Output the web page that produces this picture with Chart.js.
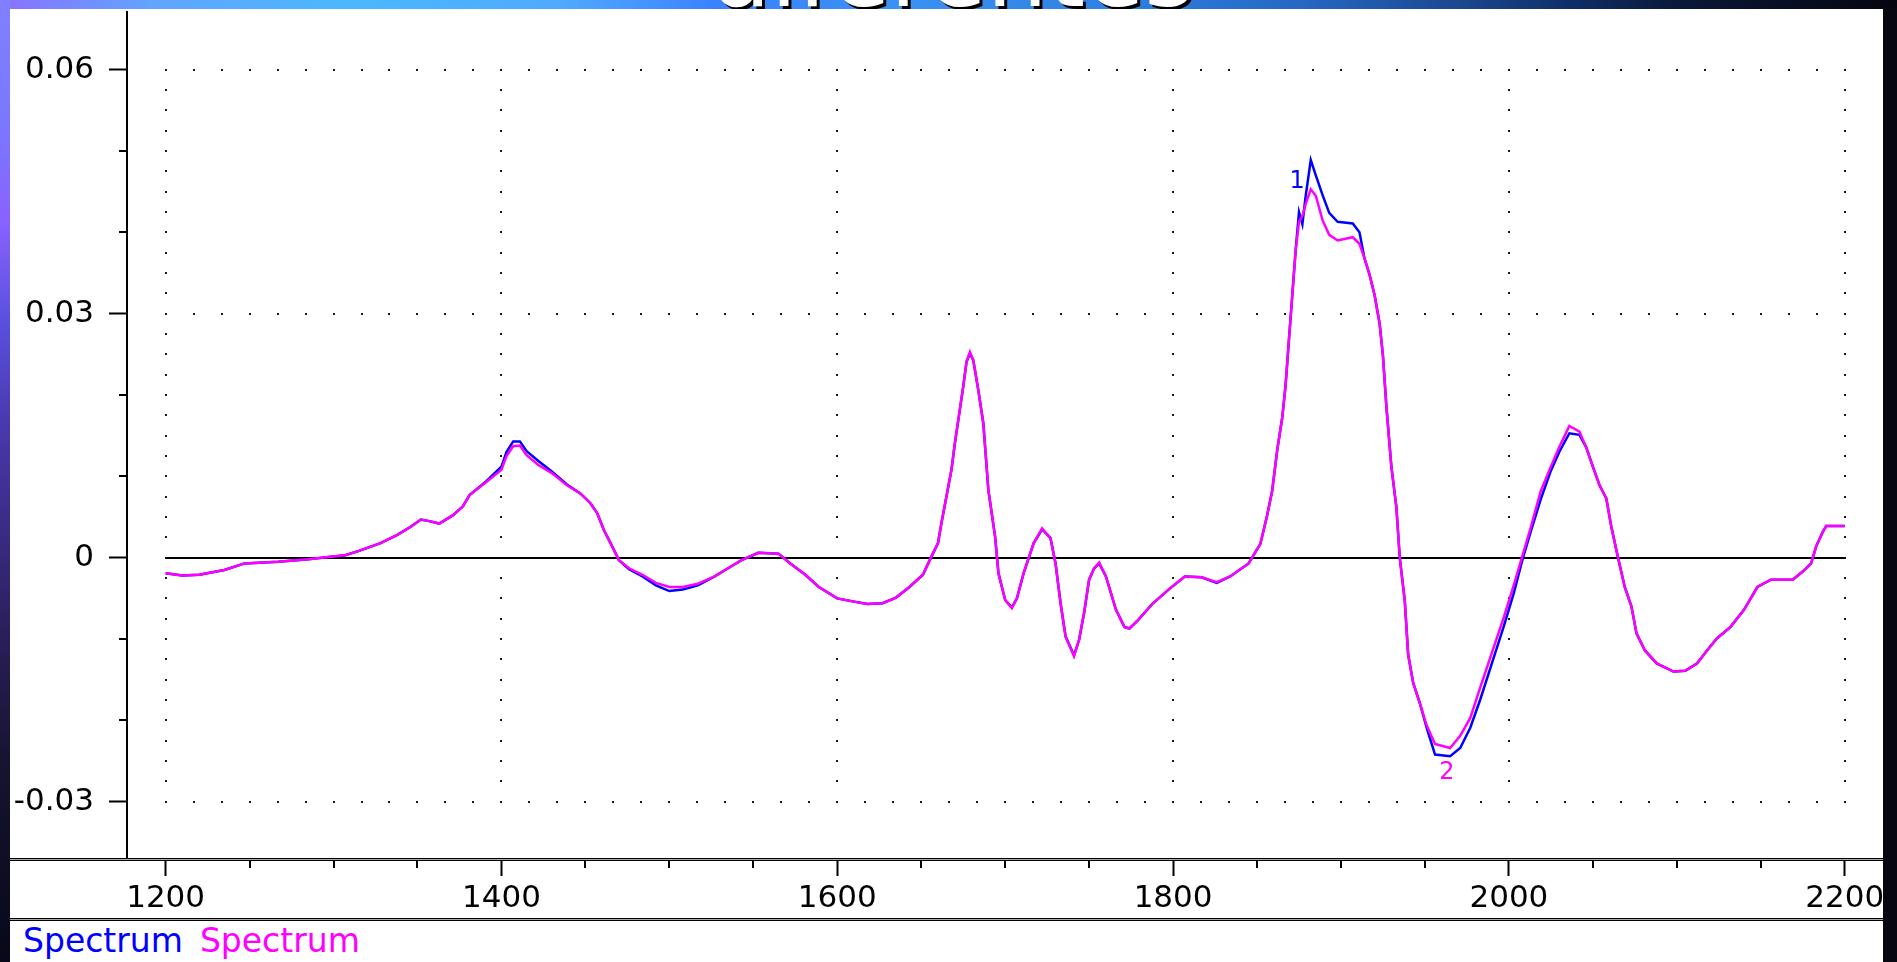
<!DOCTYPE html>
<html>
<head>
<meta charset="utf-8">
<title>Spectrum</title>
<script src="https://cdn.jsdelivr.net/npm/chart.js@4"></script>
<style>
  html, body { margin: 0; padding: 0; }
  body {
    width: 1897px; height: 962px; overflow: hidden; position: relative;
    background: #07070f; font-family: "DejaVu Sans", sans-serif;
  }
  #topband {
    position: absolute; left: 0; top: 0; width: 1897px; height: 9px;
    background: linear-gradient(to right, #8a70ff 0px, #62a4ff 150px, #4ab8ff 350px, #50aaff 560px,
      #3b80ff 720px, #3a92f2 900px, #2f82e2 1100px, #2668c4 1300px, #1c4a92 1450px,
      #10306c 1560px, #0a1838 1680px, #05050f 1897px);
  }
  #leftband {
    position: absolute; left: 0; top: 0; width: 10px; height: 962px;
    background: linear-gradient(to bottom, #8080ff 0px, #7a78ff 120px, #8a62ff 220px, #5a50e0 320px,
      #4a3ab0 420px, #3c2c88 520px, #2a1e58 640px, #161430 760px, #08081a 962px);
  }
  #title {
    position: absolute; left: 952px; top: -75px; transform: translateX(-50%);
    font-size: 96px; line-height: 1; color: #fff; white-space: nowrap;
    text-shadow: 3px 3px 0 #000;
  }
  #panel { position: absolute; left: 10px; top: 9px; width: 1873px; height: 953px; background: #fff; }
  #chart { position: absolute; left: 0; top: 0; }
  #sep2 {
    position: absolute; left: 0; top: 909px; width: 1873px; height: 1px;
    background: #aaa; border-top: 1px solid #000; border-bottom: 1px solid #000;
  }
  #legend {
    position: absolute; left: 13px; top: 913px; font-size: 33px; line-height: 38px;
    white-space: nowrap; display: flex; gap: 17px;
  }
</style>
</head>
<body>
<div id="topband"></div>
<div id="leftband"></div>
<div id="title">diferentes</div>
<div id="panel">
  <canvas id="chart" width="1873" height="909"></canvas>
  <div id="sep2"></div>
  <div id="legend"><span style="color:#0000ff">Spectrum</span><span style="color:#ff00ff">Spectrum</span></div>
</div>
<script>
// wavenumber positions
const wavenumbers = [
  1200, 1210, 1220, 1235, 1247, 1267, 1285, 1297, 1307, 1316, 1328, 1338, 1346, 1352, 1357, 1363, 1371, 1377, 1381, 1391,
  1400, 1403, 1407, 1411, 1415, 1422, 1430, 1439, 1447, 1453, 1457, 1461, 1465, 1470, 1476, 1484, 1492, 1500, 1508, 1517,
  1527, 1535, 1543, 1553, 1565, 1572, 1581, 1589, 1600, 1610, 1618, 1627, 1635, 1643, 1651, 1656, 1660, 1662, 1665, 1668,
  1670, 1673, 1675, 1677, 1679, 1681, 1684, 1687, 1690, 1694, 1696, 1700, 1704, 1707, 1711, 1717, 1722, 1727, 1730, 1733,
  1736, 1741, 1744, 1747, 1750, 1753, 1756, 1760, 1766, 1771, 1774, 1779, 1788, 1798, 1807, 1817, 1826, 1834, 1845, 1852,
  1856, 1859, 1862, 1865, 1867, 1869, 1871, 1873, 1875, 1877, 1879, 1882, 1885, 1889, 1893, 1898, 1907, 1911, 1914, 1917,
  1920, 1923, 1925, 1927, 1930, 1933, 1935, 1938, 1940, 1943, 1947, 1951, 1956, 1965, 1971, 1977, 1983, 1990, 1997, 2003,
  2008, 2013, 2019, 2025, 2030, 2036, 2042, 2046, 2050, 2054, 2058, 2061, 2065, 2069, 2073, 2076, 2081, 2088, 2098, 2105,
  2112, 2118, 2124, 2132, 2140, 2148, 2156, 2169, 2175, 2180, 2183, 2187, 2189, 2200
];

const blueSpectrum = [
  -0.0019, -0.0022, -0.0021, -0.0015, -0.0007, -0.0005, -0.0002, 0.0001, 0.0003, 0.0009, 0.0018, 0.0028, 0.0038, 0.0047, 0.0045, 0.0042, 0.0052, 0.0063, 0.0077, 0.0094,
  0.0112, 0.0130, 0.0143, 0.0143, 0.0131, 0.0119, 0.0106, 0.0090, 0.0079, 0.0067, 0.0055, 0.0034, 0.0018, -0.0003, -0.0014, -0.0023, -0.0034, -0.0041, -0.0039, -0.0034,
  -0.0023, -0.0013, -0.0003, 0.0006, 0.0005, -0.0007, -0.0021, -0.0036, -0.0050, -0.0054, -0.0057, -0.0056, -0.0049, -0.0036, -0.0021, 0.0001, 0.0018, 0.0042, 0.0075, 0.0108,
  0.0140, 0.0182, 0.0210, 0.0241, 0.0251, 0.0243, 0.0206, 0.0165, 0.0083, 0.0026, -0.0019, -0.0052, -0.0061, -0.0050, -0.0019, 0.0018, 0.0035, 0.0024, -0.0007, -0.0056,
  -0.0097, -0.0120, -0.0101, -0.0068, -0.0027, -0.0013, -0.0007, -0.0023, -0.0064, -0.0085, -0.0087, -0.0077, -0.0056, -0.0038, -0.0023, -0.0024, -0.0031, -0.0023, -0.0007, 0.0017,
  0.0052, 0.0082, 0.0132, 0.0172, 0.0212, 0.0268, 0.0323, 0.0378, 0.0425, 0.0410, 0.0445, 0.0489, 0.0470, 0.0446, 0.0424, 0.0413, 0.0411, 0.0400, 0.0368, 0.0348,
  0.0323, 0.0288, 0.0248, 0.0187, 0.0112, 0.0062, 0.0000, -0.0053, -0.0119, -0.0154, -0.0179, -0.0209, -0.0242, -0.0244, -0.0234, -0.0209, -0.0174, -0.0129, -0.0084, -0.0043,
  -0.0003, 0.0032, 0.0072, 0.0107, 0.0130, 0.0153, 0.0151, 0.0136, 0.0112, 0.0089, 0.0073, 0.0038, 0.0000, -0.0036, -0.0060, -0.0093, -0.0114, -0.0130, -0.0140, -0.0139,
  -0.0130, -0.0114, -0.0099, -0.0085, -0.0064, -0.0036, -0.0027, -0.0027, -0.0017, -0.0007, 0.0014, 0.0032, 0.0039, 0.0039
];

const magentaSpectrum = [
  -0.0019, -0.0022, -0.0021, -0.0015, -0.0007, -0.0005, -0.0002, 0.0001, 0.0003, 0.0009, 0.0018, 0.0028, 0.0038, 0.0047, 0.0045, 0.0042, 0.0052, 0.0063, 0.0077, 0.0093,
  0.0108, 0.0125, 0.0137, 0.0138, 0.0126, 0.0114, 0.0104, 0.0089, 0.0079, 0.0067, 0.0055, 0.0034, 0.0018, -0.0003, -0.0013, -0.0021, -0.0031, -0.0036, -0.0036, -0.0032,
  -0.0023, -0.0013, -0.0003, 0.0006, 0.0005, -0.0007, -0.0021, -0.0036, -0.0050, -0.0054, -0.0057, -0.0056, -0.0049, -0.0036, -0.0021, 0.0001, 0.0018, 0.0042, 0.0075, 0.0108,
  0.0140, 0.0182, 0.0210, 0.0241, 0.0253, 0.0243, 0.0206, 0.0165, 0.0083, 0.0026, -0.0019, -0.0052, -0.0062, -0.0050, -0.0019, 0.0018, 0.0036, 0.0024, -0.0007, -0.0056,
  -0.0097, -0.0121, -0.0101, -0.0068, -0.0027, -0.0013, -0.0006, -0.0023, -0.0064, -0.0085, -0.0087, -0.0077, -0.0056, -0.0038, -0.0023, -0.0024, -0.0030, -0.0023, -0.0007, 0.0017,
  0.0052, 0.0082, 0.0132, 0.0172, 0.0212, 0.0268, 0.0323, 0.0378, 0.0413, 0.0420, 0.0435, 0.0453, 0.0445, 0.0415, 0.0397, 0.0390, 0.0394, 0.0386, 0.0368, 0.0348,
  0.0323, 0.0288, 0.0248, 0.0187, 0.0112, 0.0062, 0.0000, -0.0053, -0.0119, -0.0154, -0.0179, -0.0206, -0.0229, -0.0234, -0.0219, -0.0197, -0.0159, -0.0116, -0.0073, -0.0033,
  0.0002, 0.0037, 0.0082, 0.0112, 0.0136, 0.0162, 0.0155, 0.0136, 0.0112, 0.0089, 0.0073, 0.0038, 0.0000, -0.0036, -0.0060, -0.0093, -0.0114, -0.0130, -0.0140, -0.0139,
  -0.0130, -0.0114, -0.0099, -0.0085, -0.0064, -0.0036, -0.0027, -0.0027, -0.0017, -0.0007, 0.0014, 0.0032, 0.0039, 0.0039
];

const xMajorTicks = [1200, 1400, 1600, 1800, 2000, 2200];
const xMinorTicks = [1250, 1300, 1350, 1450, 1500, 1550, 1650, 1700, 1750, 1850, 1900, 1950, 2050, 2100, 2150];
const yMajorTicks = [-0.03, 0, 0.03, 0.06];
const yMinorTicks = [-0.02, -0.01, 0.01, 0.02, 0.04, 0.05];

// the little peak labels "1" and "2"
const markText = ["1", "2"];
const markX = [1873.9, 1963];
const markY = [0.0462, -0.0264];
const markColor = ["#0000ff", "#ff00ff"];

const BLUE = "#0000ff";
const MAGENTA = "#ff00ff";

Chart.defaults.font.family = "'DejaVu Sans', sans-serif";
Chart.defaults.color = "#000";

const spectrumFrame = {
  id: "spectrumFrame",
  beforeDatasetsDraw(chart) {
    const { ctx, scales: { x, y } } = chart;
    const left = x.getPixelForValue(xMajorTicks[0]);
    const right = x.getPixelForValue(xMajorTicks[xMajorTicks.length - 1]);
    const top = y.getPixelForValue(yMajorTicks[yMajorTicks.length - 1]);
    const bottom = y.getPixelForValue(yMajorTicks[0]);
    const sub = 12;
    ctx.save();
    ctx.fillStyle = "#1a1a1a";
    // dotted verticals
    const nv = (yMajorTicks.length - 1) * sub;
    xMajorTicks.forEach((v) => {
      const px = x.getPixelForValue(v);
      for (let j = 0; j <= nv; j++) {
        const py = top + (bottom - top) * j / nv;
        ctx.fillRect(Math.round(px) - 1, Math.round(py) - 1, 2, 2);
      }
    });
    // dotted horizontals (zero is solid)
    const nh = (xMajorTicks.length - 1) * sub;
    yMajorTicks.forEach((v) => {
      if (v === 0) return;
      const py = y.getPixelForValue(v);
      for (let j = 0; j <= nh; j++) {
        const px = left + (right - left) * j / nh;
        ctx.fillRect(Math.round(px) - 1, Math.round(py) - 1, 2, 2);
      }
    });
    const zy = Math.round(y.getPixelForValue(0));
    ctx.strokeStyle = "#000";
    ctx.lineWidth = 2;
    ctx.beginPath();
    ctx.moveTo(left, zy);
    ctx.lineTo(right, zy);
    ctx.stroke();
    ctx.restore();
  },
  afterDatasetsDraw(chart) {
    const { ctx, scales: { x, y } } = chart;
    ctx.save();
    ctx.font = "24px 'DejaVu Sans', sans-serif";
    ctx.textAlign = "center";
    ctx.textBaseline = "middle";
    markText.forEach((t, i) => {
      ctx.fillStyle = markColor[i];
      ctx.fillText(t, x.getPixelForValue(markX[i]), y.getPixelForValue(markY[i]));
    });
    ctx.restore();
  },
  afterDraw(chart) {
    const { ctx, scales: { x, y } } = chart;
    ctx.save();
    ctx.fillStyle = "#000";
    // minor ticks
    yMinorTicks.forEach((v) => {
      const py = Math.round(y.getPixelForValue(v));
      ctx.fillRect(y.right - 8, py - 1, 8, 2);
    });
    xMinorTicks.forEach((v) => {
      const px = Math.round(x.getPixelForValue(v));
      ctx.fillRect(px - 1, x.top, 2, 9);
    });
    // double rule under the plot
    const t = Math.round(x.top);
    ctx.fillRect(0, t - 1, chart.width, 1);
    ctx.fillStyle = "#aaa";
    ctx.fillRect(0, t, chart.width, 1);
    ctx.fillStyle = "#000";
    ctx.fillRect(0, t + 1, chart.width, 1);
    ctx.restore();
  }
};

new Chart(document.getElementById("chart"), {
  type: "line",
  data: {
    datasets: [
      {
        label: "Spectrum",
        data: wavenumbers.map((w, i) => ({ x: w, y: blueSpectrum[i] })),
        borderColor: BLUE,
        borderWidth: 2.5,
        pointRadius: 0,
        tension: 0,
        order: 1
      },
      {
        label: "Spectrum",
        data: wavenumbers.map((w, i) => ({ x: w, y: magentaSpectrum[i] })),
        borderColor: MAGENTA,
        borderWidth: 2.5,
        pointRadius: 0,
        tension: 0,
        order: 0
      }
    ]
  },
  options: {
    responsive: false,
    animation: false,
    layout: { padding: { top: 3, left: 0, right: 0, bottom: 0 } },
    plugins: { legend: { display: false }, tooltip: { enabled: false } },
    scales: {
      x: {
        type: "linear",
        min: 1177,
        max: 2222.8,
        afterBuildTicks: (s) => { s.ticks = xMajorTicks.map((v) => ({ value: v })); },
        afterFit: (s) => { s.height = 59; s.paddingLeft = 0; s.paddingRight = 0; },
        ticks: {
          autoSkip: false, maxRotation: 0, padding: 4,
          font: { size: 31 }, color: "#000",
          callback: (v) => String(v)
        },
        grid: { display: true, drawOnChartArea: false, drawTicks: true, tickLength: 17, tickWidth: 2, tickColor: "#000" },
        border: { display: false }
      },
      y: {
        min: -0.03704,
        max: 0.06709,
        afterBuildTicks: (s) => { s.ticks = yMajorTicks.map((v) => ({ value: v })); },
        afterFit: (s) => { s.width = 117; s.paddingTop = 0; s.paddingBottom = 0; },
        ticks: {
          padding: 15,
          font: { size: 31 }, color: "#000",
          callback: (v) => (v === 0 ? "0" : v.toFixed(2))
        },
        grid: { display: true, drawOnChartArea: false, drawTicks: true, tickLength: 18, tickWidth: 2, tickColor: "#000" },
        border: { display: true, color: "#000", width: 2 }
      }
    }
  },
  plugins: [spectrumFrame]
});
</script>
</body>
</html>
